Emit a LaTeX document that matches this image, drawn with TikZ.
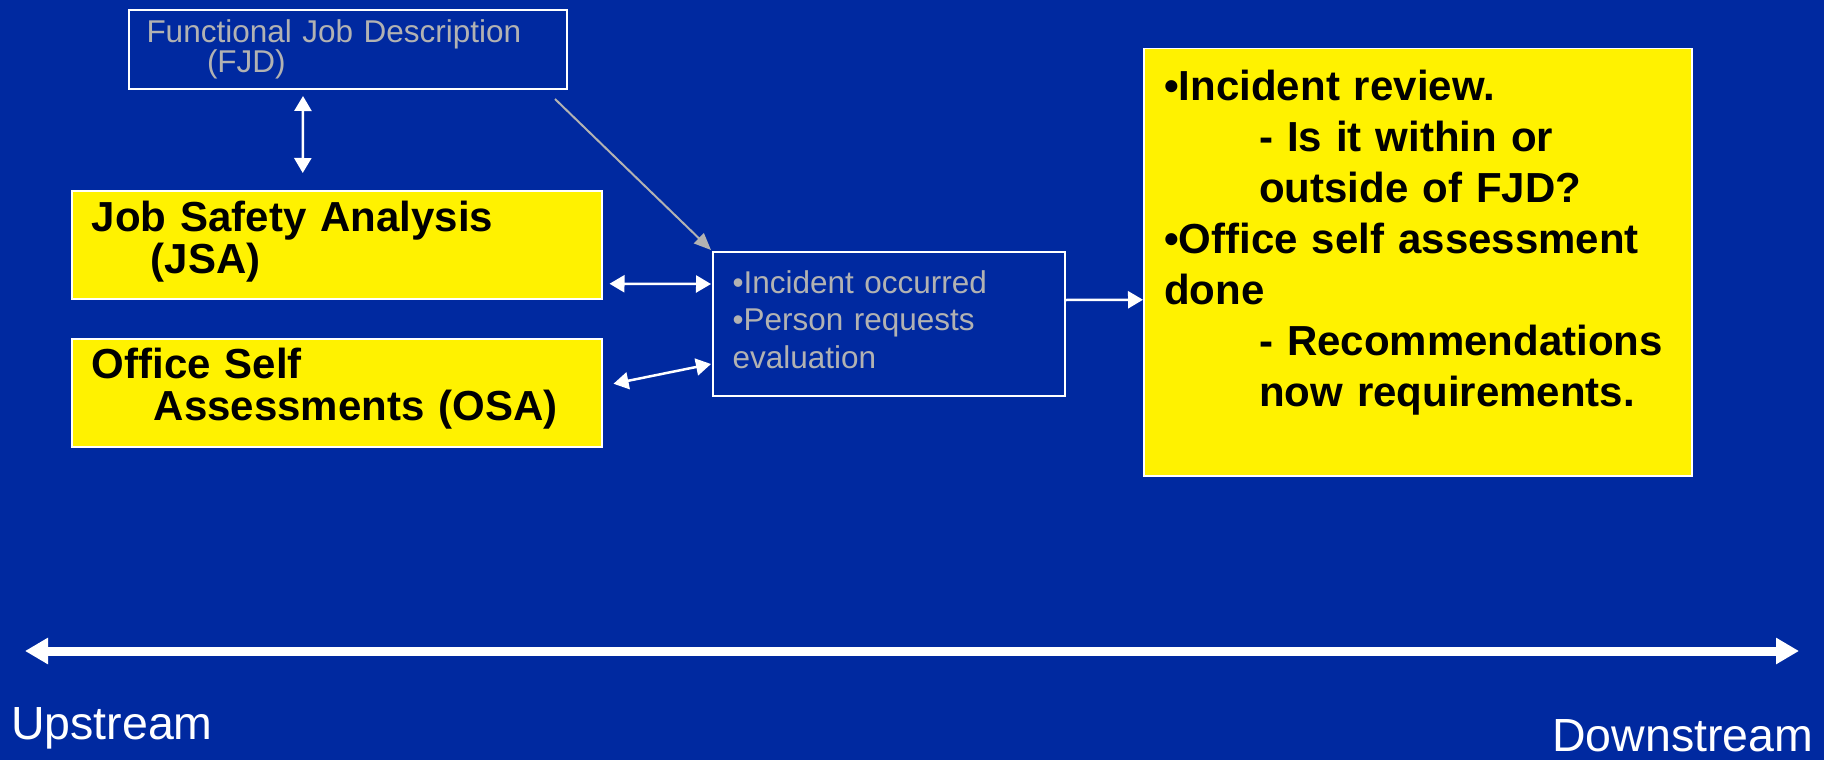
\documentclass[tikz,border=0pt]{standalone}
\usepackage{fontspec}
\setmainfont{Liberation Sans}
\usepackage{xcolor}
\usetikzlibrary{arrows.meta}
\definecolor{slideblue}{RGB}{0,41,160}
\definecolor{notegray}{RGB}{178,178,178}

\begin{document}
\begin{tikzpicture}[
		x=1pt, y=-1pt,
		outline box/.style={
			rectangle, draw=white, line width=2pt, anchor=north west,
			align=left, inner ysep=0pt, text=notegray,
		},
		yellow box/.style={
			rectangle, draw=white, line width=1.5pt, fill=yellow, anchor=north west,
			align=left, inner ysep=0pt, text=black,
		},
		duo arrow/.style={
			draw=white, line width=2.5pt,
			{Triangle[length=15pt,width=17pt]}-{Triangle[length=15pt,width=17pt]},
		},
		solo arrow/.style={
			draw=white, line width=2.5pt, -{Triangle[length=15pt,width=17pt]},
		},
		gray link/.style={
			draw=notegray, line width=2pt, -{Triangle[length=17pt,width=14pt]},
		},
		stream label/.style={
			text=white, inner sep=0pt, font=\fontsize{46.5}{50}\selectfont,
		},
	]
		\fill[slideblue] (0,0) rectangle (1824,760);
		\useasboundingbox (0,0) rectangle (1824,760);

		\node[
			outline box, inner xsep=17.5pt, text width=403pt, minimum height=79pt,
			font=\fontsize{31.5}{28.5}\selectfont
		] (fjd) at (128,9) {
			Functional Job Description\\
			\hspace*{60.5pt}(FJD)
		};
		\node[
			yellow box, inner xsep=20pt, text width=490pt, minimum height=108pt,
			font=\bfseries\fontsize{42}{42}\selectfont
		] (jsa) at (71,190) {
			Job Safety Analysis\\
			\hspace*{59pt}(JSA)\rule[-15pt]{0pt}{15pt}
		};
		\node[
			yellow box, inner xsep=20pt, text width=490pt, minimum height=108pt,
			font=\bfseries\fontsize{42}{42}\selectfont
		] (osa) at (71,338) {
			Office Self\\
			\hspace*{62pt}Assessments (OSA)\rule[-16pt]{0pt}{16pt}
		};
		\node[
			outline box, inner xsep=19.5pt, text width=313pt, minimum height=144pt,
			font=\fontsize{31.5}{37.5}\selectfont
		] (incident) at (712,251) {
			•Incident occurred\\
			•Person requests\\
			evaluation\rule[-9pt]{0pt}{9pt}
		};
		% the empty room under the last line is kept by a deep strut
		\node[
			yellow box, inner xsep=20.5pt, text width=507pt, minimum height=427pt,
			font=\bfseries\fontsize{42}{51}\selectfont
		] (review) at (1143,48) {
			•Incident review.\\
			\hspace*{95pt}- Is it within or\\
			\hspace*{95pt}outside of FJD?\\
			•Office self assessment\\
			done\\
			\hspace*{95pt}- Recommendations\\
			\hspace*{95pt}now requirements.\rule[-48pt]{0pt}{48pt}
		};

		\draw[duo arrow] ([shift={(-45,6)}]fjd.south) -- ([shift={(-34,-17)}]jsa.north);
		\draw[gray link] ([shift={(-13,9)}]fjd.south east) -- ([shift={(-1,-1)}]incident.north west);
		\draw[duo arrow] ([shift={(7,39)}]jsa.east) -- ([shift={(-1,-40)}]incident.west);
		\draw[duo arrow] ([shift={(11,-9)}]osa.east) -- ([shift={(-1,40)}]incident.west);
		\draw[solo arrow] ([shift={(0,-24)}]incident.east) -- ([shift={(0,37.5)}]review.west);

		\coordinate (up end) at (25,651);
		\coordinate (down end) at (1799,651);
		\draw[
			white, line width=9pt,
			{Triangle[length=23pt,width=25pt]}-{Triangle[length=23pt,width=25pt]}
		] (up end) -- (down end);

		\node[stream label, anchor=base west] (upstream) at (11,739) {Upstream};
		\node[stream label, anchor=base west] (downstream) at (1552,751) {Downstream};
	\end{tikzpicture}
\end{document}
